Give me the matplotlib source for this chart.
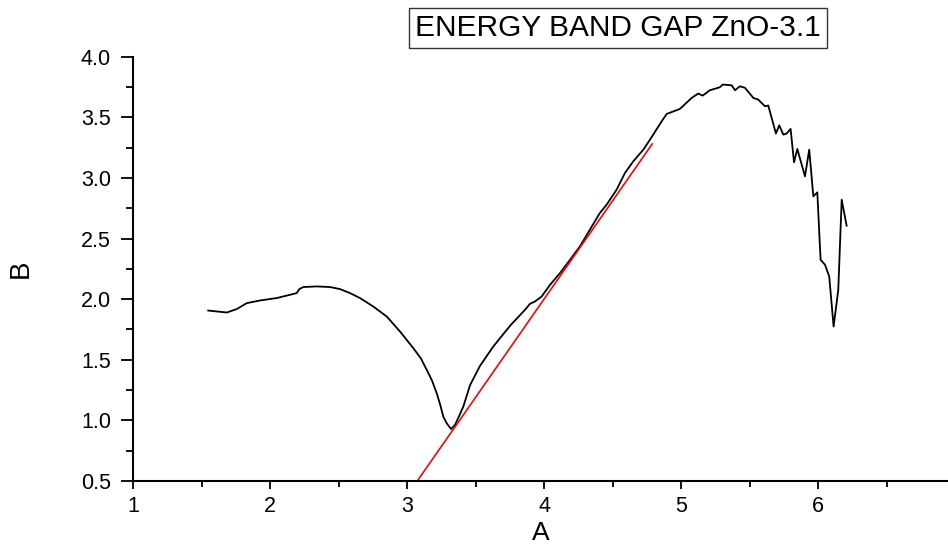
import matplotlib
matplotlib.use('Agg')
import matplotlib.pyplot as plt
from matplotlib.ticker import MultipleLocator, FixedLocator

plt.rcParams['font.family'] = ['Liberation Sans', 'DejaVu Sans']

# 曲线数据
a_vals = [1.547, 1.682, 1.755, 1.828, 1.925, 2.047, 2.144, 2.193, 2.212, 2.241,
          2.339, 2.436, 2.509, 2.582, 2.655, 2.752, 2.850, 2.947, 3.044, 3.100,
          3.142, 3.180, 3.215, 3.240, 3.263, 3.288, 3.319, 3.348, 3.380, 3.409,
          3.458, 3.531, 3.628, 3.750, 3.859, 3.896, 3.932, 3.981, 4.042, 4.115,
          4.188, 4.260, 4.333, 4.406, 4.455, 4.528, 4.589, 4.650, 4.723, 4.772,
          4.857, 4.894, 4.990, 5.076, 5.124, 5.156, 5.209, 5.282, 5.302, 5.368,
          5.392, 5.428, 5.465, 5.526, 5.562, 5.611, 5.635, 5.691, 5.715, 5.745,
          5.769, 5.798, 5.823, 5.847, 5.903, 5.934, 5.964, 5.993, 6.017, 6.049,
          6.080, 6.112, 6.146, 6.171, 6.207]
b_vals = [1.906, 1.890, 1.918, 1.967, 1.989, 2.009, 2.036, 2.050, 2.083, 2.100,
          2.105, 2.100, 2.083, 2.050, 2.009, 1.939, 1.857, 1.733, 1.596, 1.510,
          1.417, 1.330, 1.224, 1.130, 1.031, 0.976, 0.929, 0.962, 1.040, 1.114,
          1.290, 1.450, 1.610, 1.780, 1.912, 1.962, 1.981, 2.022, 2.118, 2.215,
          2.325, 2.435, 2.573, 2.711, 2.779, 2.903, 3.041, 3.137, 3.233, 3.316,
          3.467, 3.528, 3.569, 3.660, 3.696, 3.679, 3.723, 3.748, 3.770, 3.764,
          3.723, 3.756, 3.743, 3.660, 3.646, 3.591, 3.597, 3.366, 3.434, 3.357,
          3.366, 3.404, 3.129, 3.239, 3.013, 3.233, 2.848, 2.881, 2.325, 2.284,
          2.187, 1.774, 2.077, 2.820, 2.606]

# 切线 (红线) 端点
fit_a = [3.073, 4.788]
fit_b = [0.5, 3.280]

x_ticks = [1, 2, 3, 4, 5, 6]
title_text = 'ENERGY BAND GAP ZnO-3.1'

fig = plt.figure(figsize=(9.48, 5.45), dpi=100)
ax = fig.add_axes([0.1406, 0.1174, 0.8594, 0.7786])

ax.plot(a_vals, b_vals, color='black', lw=1.3)
ax.plot(fit_a, fit_b, color='red', lw=1.2)

ax.set_xlim(1, 6.947)
ax.set_ylim(0.5, 4.0)
ax.xaxis.set_major_locator(FixedLocator(x_ticks))
ax.xaxis.set_minor_locator(MultipleLocator(0.5))
ax.yaxis.set_major_locator(MultipleLocator(0.5))
ax.yaxis.set_minor_locator(MultipleLocator(0.25))
ax.yaxis.set_major_formatter(plt.FormatStrFormatter('%.1f'))

for s in ['top', 'right']:
    ax.spines[s].set_visible(False)
for s in ['left', 'bottom']:
    ax.spines[s].set_linewidth(1.5)

ax.tick_params(axis='y', which='major', length=9, width=1.3, labelsize=15.5, pad=7)
ax.tick_params(axis='y', which='minor', length=5, width=1.3)
ax.tick_params(axis='x', which='major', length=6, width=1.3, labelsize=15.5, pad=5)
ax.tick_params(axis='x', which='minor', length=4, width=1.3)

ax.set_xlabel('A', fontsize=19, labelpad=3)
ax.set_ylabel('B', fontsize=20, labelpad=34)

fig.text(0.6515, 0.9486, title_text, fontsize=21.5, ha='center', va='center',
         bbox=dict(boxstyle='square,pad=0.2', facecolor='white', edgecolor='#333333', lw=1))

fig.savefig('out.png', dpi=100)
